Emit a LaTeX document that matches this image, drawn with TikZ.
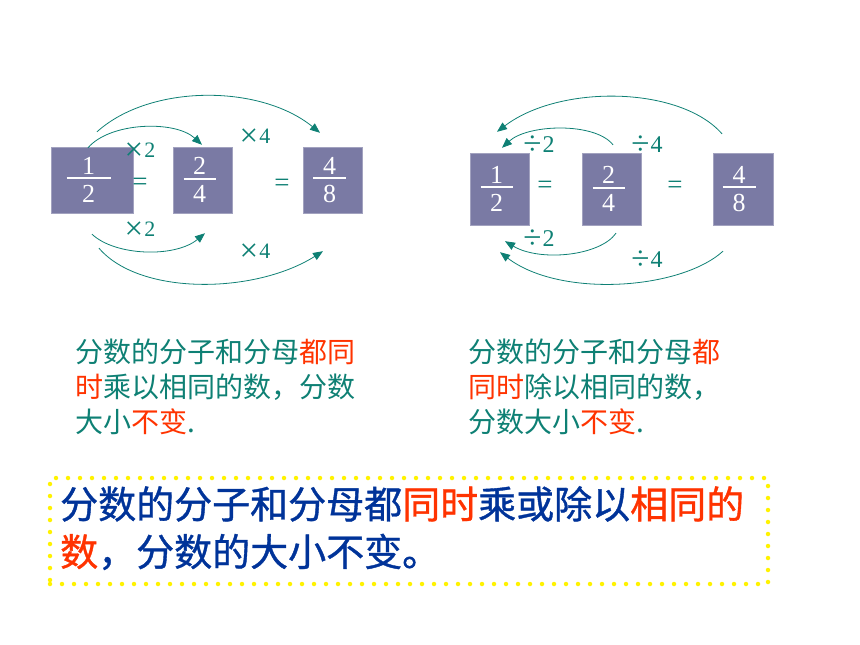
\documentclass[tikz,border=0pt]{standalone}
\usepackage{fontspec}
\setmainfont{Liberation Serif}
\newfontfamily\cjk{Noto Sans CJK SC}
\newfontfamily\cjkheavy[FakeBold=1]{Noto Sans CJK SC}
\usetikzlibrary{positioning, arrows.meta}

\definecolor{slate}{RGB}{122,122,164}
\definecolor{tealtext}{RGB}{14,128,116}
\definecolor{redtext}{RGB}{255,51,0}
\definecolor{bluetext}{RGB}{0,51,153}

\newcommand\hl[1]{\textcolor{redtext}{#1}}
\newcommand\opsym[2]{\raisebox{#2}{\fontsize{33}{33}\selectfont#1}\kern1pt}
\newcommand\frc[3]{\vbox{\hbox to #3{\hss#1\hss}\kern3pt\hrule height 2pt\kern6pt\hbox to #3{\hss#2\hss}}\kern7pt}

\begin{document}
\begin{tikzpicture}[
                x=1pt, y=-1pt,
                >={Triangle[length=10pt, width=8pt]},
                fracbox/.style={rectangle, fill=slate, draw=slate!70!white, inner sep=0pt, text=white, font=\fontsize{26}{26}\selectfont},
                lbl/.style={text=tealtext, inner sep=0pt, font=\fontsize{22}{22}\selectfont},
                divlbl/.style={text=tealtext, inner sep=0pt, font=\fontsize{24}{24}\selectfont},
                eq/.style={text=tealtext, inner sep=0pt, font=\fontsize{27}{27}\selectfont},
                arr/.style={->, draw=tealtext, line width=0.8pt},
                smalltxt/.style={anchor=base west, inner sep=0pt, text=tealtext, font=\cjk\fontsize{28}{28}\selectfont},
                bigtxt/.style={anchor=base west, inner sep=0pt, text=bluetext, font=\cjkheavy\fontsize{38}{38}\selectfont},
                dotframe/.style={draw=yellow, line width=4.5pt, dash pattern=on 0pt off 12pt, line cap=round, inner sep=0pt},
            ]
                \useasboundingbox (0,0) rectangle (860,645);

                % Draw the fraction boxes
                \foreach \name/\bx/\by/\bwid/\bht/\num/\den/\barw in {L1/92/180/82/66/1/2/44, L2/203/180/59/66/2/4/32, L3/333/180/59/66/4/8/33, R1/500/189/59/72/1/2/32, R2/612/189/59/72/2/4/32, R3/742.7/189/60/72/4/8/33}
                    \node[fracbox, minimum width=\bwid pt, minimum height=\bht pt] (\name) at (\bx,\by) {\frc{\num}{\den}{\barw pt}};

                % Equal signs
                \foreach \name/\x/\y in {eq1/140/184, eq2/282/185, eq3/545/187, eq4/675/187}
                    \node[eq] (\name) at (\x,\y) {=};

                % Multiply arrows
                \draw[arr] ([xshift=-4pt, yshift=-1pt]L1.north) .. controls (110,122) and (175,120) .. ([xshift=-1pt, yshift=2pt]L2.north);
                \draw[arr] ([xshift=5pt, yshift=15pt]L1.north) .. controls (150,84) and (260,84) .. ([xshift=-13pt, yshift=14pt]L3.north);
                \draw[arr] ([yshift=-21pt]L1.south) .. controls (115,256) and (175,258) .. ([xshift=2pt, yshift=-20pt]L2.south);
                \draw[arr] ([xshift=7pt, yshift=-35pt]L1.south) .. controls (140,296) and (255,294) .. ([xshift=-10pt, yshift=-38pt]L3.south);

                \node[lbl] (m2u) at (140,152) {\opsym{×}{-3pt}2};
                \node[lbl] (m4u) at (255,138) {\opsym{×}{-3pt}4};
                \node[lbl] (m2d) at (140,231) {\opsym{×}{-3pt}2};
                \node[lbl] (m4d) at (255,253) {\opsym{×}{-3pt}4};

                % Divide arrows
                \draw[arr] ([xshift=1pt, yshift=8pt]R2.north) .. controls (595,122) and (528,124) .. ([xshift=2pt, yshift=5pt]R1.north);
                \draw[arr] ([xshift=-20.7pt, yshift=19pt]R3.north) .. controls (680,86) and (560,84) .. ([xshift=-3pt, yshift=21pt]R1.north);
                \draw[arr] ([xshift=4pt, yshift=-8pt]R2.south) .. controls (600,256) and (540,262) .. ([xshift=5pt, yshift=-16pt]R1.south);
                \draw[arr] ([xshift=-19.7pt, yshift=-26pt]R3.south) .. controls (680,290) and (560,298) .. ([yshift=-27pt]R1.south);

                \node[divlbl] (d2u) at (539,145) {\opsym{÷}{-2pt}2};
                \node[divlbl] (d4u) at (647,145) {\opsym{÷}{-2pt}4};
                \node[divlbl] (d2d) at (539,239) {\opsym{÷}{-2pt}2};
                \node[divlbl] (d4d) at (647,260) {\opsym{÷}{-2pt}4};

                % Rule texts
                \foreach \txt [count=\i] in {{分数的分子和分母\hl{都同}}, {\hl{时}乘以相同的数，分数}, {大小\hl{不变}.}}
                    \node[smalltxt] (lt\i) at (75, 327.6+35*\i) {\txt};
                \foreach \txt [count=\i] in {{分数的分子和分母\hl{都}}, {\hl{同时}除以相同的数，}, {分数大小\hl{不变}.}}
                    \node[smalltxt] (rt\i) at (468, 327.6+35*\i) {\txt};

                % Summary
                \node[dotframe, minimum width=718pt, minimum height=106pt] (sum) at (409,531) {};
                \node[bigtxt] (bt1) at (60,518.4) {分数的分子和分母都\hl{同时}乘或除以\hl{相同的}};
                \node[bigtxt] (bt2) at (60,566) {\hl{数}，分数的大小不变。};
            \end{tikzpicture}
\end{document}
